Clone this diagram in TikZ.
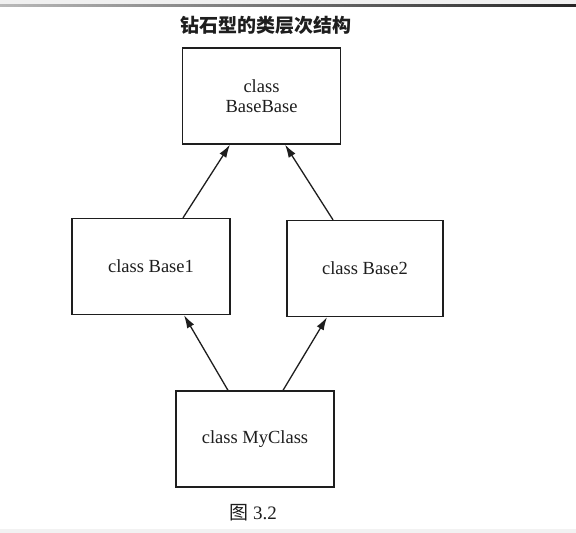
\documentclass[tikz,border=0pt]{standalone}
\usepackage{fontspec}
\setmainfont{Liberation Serif}
\newfontfamily\cjk{Noto Sans CJK SC}
\usetikzlibrary{arrows.meta}
\definecolor{ink}{HTML}{1E1E1E}
\tikzset{
  classbox/.style={draw=ink, line width=1.3pt, rectangle, minimum width=158pt, minimum height=96pt, inner sep=0pt, font=\fontsize{18.5}{19.5}\selectfont, text=ink, align=center},
  inherit/.style={draw=ink, line width=1.3pt, -{Latex[length=13pt,width=8pt]}}
}
\begin{document}
\begin{tikzpicture}[x=1pt,y=-1pt]
\useasboundingbox (0,0) rectangle (576,533);
\fill[white] (0,0) rectangle (576,533);
\fill[gray!12] (0,0) rectangle (576,4.5);
\shade[left color=gray!55, right color=black!85] (0,4.5) rectangle (576,6.5);
\fill[gray!10] (0,529) rectangle (576,533);
\node[font=\cjk\bfseries\fontsize{19}{20}\selectfont, text=ink] (title) at (266,25) {钻石型的类层次结构};
\node[classbox] (bb) at (261.5,96) {class\\BaseBase};
\node[classbox] (b1) at (151,266.5) {class Base1};
\node[classbox, minimum width=156pt] (b2) at (365,268.5) {class Base2};
\node[classbox] (my) at (255,439) {class MyClass};
\node[font=\fontsize{19}{20}\selectfont, text=ink] (cap) at (253,513) {{\cjk 图} 3.2};
\draw[inherit] ([xshift=-27pt]my.north) -- ([xshift=33pt]b1.south);
\draw[inherit] ([xshift=28pt]my.north) -- ([xshift=-38pt]b2.south);
\draw[inherit] ([xshift=32pt]b1.north) -- ([xshift=-31.5pt]bb.south);
\draw[inherit] ([xshift=-32pt]b2.north) -- ([xshift=23.5pt]bb.south);
\end{tikzpicture}
\end{document}
